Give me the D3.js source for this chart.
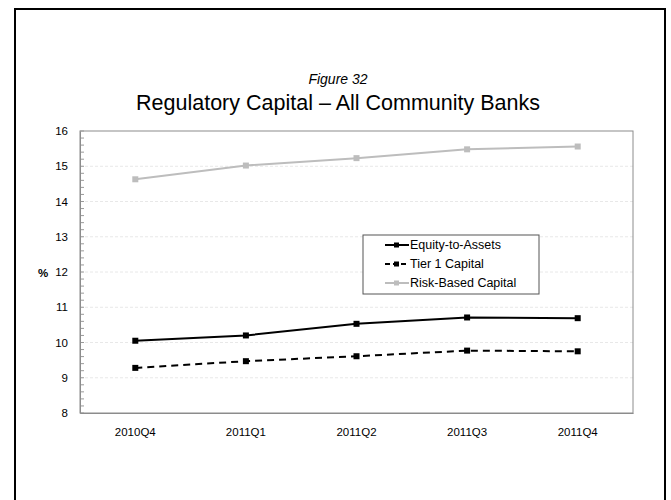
<!DOCTYPE html>
<html><head><meta charset="utf-8">
<script src="https://cdn.jsdelivr.net/npm/d3@7"></script>
<style>body{margin:0;background:#fff;} svg{display:block;font-family:"Liberation Sans",Arial,sans-serif;}</style>
</head><body>
<script>
const categories = ["2010Q4","2011Q1","2011Q2","2011Q3","2011Q4"];
const equityToAssets = [10.05, 10.20, 10.53, 10.71, 10.69];
const tier1Capital = [9.28, 9.47, 9.61, 9.77, 9.75];
const riskBasedCapital = [14.63, 15.02, 15.23, 15.48, 15.56];
const yTicks = [8,9,10,11,12,13,14,15,16];
const seriesNames = ["Equity-to-Assets","Tier 1 Capital","Risk-Based Capital"];

(function(){
const W = 671, H = 500;
const svg = d3.select("body").append("svg").attr("width", W).attr("height", H);

// outer frame
svg.append("rect").attr("x",15).attr("y",9).attr("width",650).attr("height",520)
  .attr("fill","none").attr("stroke","#000").attr("stroke-width",2);

// titles
svg.append("text").attr("x",338).attr("y",84).attr("text-anchor","middle")
  .attr("font-size",14).attr("font-style","italic").text("Figure 32");
svg.append("text").attr("x",338).attr("y",110).attr("text-anchor","middle")
  .attr("font-size",21.5).text("Regulatory Capital \u2013 All Community Banks");

const pLeft = 80, pRight = 633, pTop = 131, pBottom = 413;
const x = d3.scaleBand().domain(categories).range([pLeft, pRight]);
const y = d3.scaleLinear().domain([8,16]).range([pBottom, pTop]);
const cx = d => x(d) + x.bandwidth()/2;

// gridlines
svg.append("g").selectAll("line").data(yTicks.slice(1,-1)).join("line")
  .attr("x1",pLeft).attr("x2",pRight).attr("y1",d=>y(d)).attr("y2",d=>y(d))
  .attr("stroke","#e8e8e8").attr("stroke-width",1).attr("stroke-dasharray","3,2");

// plot border
svg.append("rect").attr("x",pLeft).attr("y",pTop).attr("width",pRight-pLeft).attr("height",pBottom-pTop)
  .attr("fill","none").attr("stroke","#8c8c8c").attr("stroke-width",1);

// y axis minor ticks (inside)
const minor = d3.range(8, 16.001, 0.2);
svg.append("g").selectAll("line").data(minor).join("line")
  .attr("x1",pLeft).attr("x2",pLeft+4).attr("y1",d=>y(d)).attr("y2",d=>y(d))
  .attr("stroke","#9a9a9a").attr("stroke-width",1);

// y axis
const yAxis = d3.axisLeft(y).tickValues(yTicks).tickSize(0).tickPadding(12).tickFormat(d3.format("d"));
const gy = svg.append("g").attr("transform",`translate(${pLeft},0)`).call(yAxis);
gy.select(".domain").attr("stroke","#8c8c8c");
gy.selectAll("text").attr("font-size",11.5).attr("font-family","Liberation Sans, Arial, sans-serif").attr("fill","#000");

// x axis
const xAxis = d3.axisBottom(x).tickSize(0).tickPadding(15);
const gx = svg.append("g").attr("transform",`translate(0,${pBottom})`).call(xAxis);
gx.select(".domain").attr("stroke","#8c8c8c");
gx.selectAll("text").attr("font-size",11.5).attr("font-family","Liberation Sans, Arial, sans-serif").attr("fill","#000");

// % label
svg.append("text").attr("x",43).attr("y",277).attr("text-anchor","middle")
  .attr("font-size",11.5).attr("font-weight","bold").text("%");

const series = [
  {name: seriesNames[0], values: equityToAssets, color:"#000", dash:null},
  {name: seriesNames[1], values: tier1Capital, color:"#000", dash:"7,5"},
  {name: seriesNames[2], values: riskBasedCapital, color:"#bdbdbd", dash:null}
];

const line = d3.line().x((d,i)=>cx(categories[i])).y(d=>y(d));
series.forEach(s=>{
  svg.append("path").datum(s.values).attr("d",line).attr("fill","none")
    .attr("stroke",s.color).attr("stroke-width",2).attr("stroke-dasharray",s.dash);
  svg.append("g").selectAll("rect").data(s.values).join("rect")
    .attr("x",(d,i)=>cx(categories[i])-3).attr("y",d=>y(d)-3)
    .attr("width",6).attr("height",6).attr("fill",s.color);
});

// legend
const lg = svg.append("g");
lg.append("rect").attr("x",363).attr("y",235).attr("width",176).attr("height",59)
  .attr("fill","#fff").attr("stroke","#555").attr("stroke-width",1);
series.forEach((s,i)=>{
  const ly = 245 + i*19;
  lg.append("line").attr("x1",385).attr("x2",409).attr("y1",ly).attr("y2",ly)
    .attr("stroke",s.color).attr("stroke-width",2).attr("stroke-dasharray", s.dash ? "5,3" : null);
  lg.append("rect").attr("x",394).attr("y",ly-2.5).attr("width",5).attr("height",5).attr("fill",s.color);
  lg.append("text").attr("x",410).attr("y",ly+4).attr("font-size",12.5).text(s.name);
});
})();
</script>
</body></html>
